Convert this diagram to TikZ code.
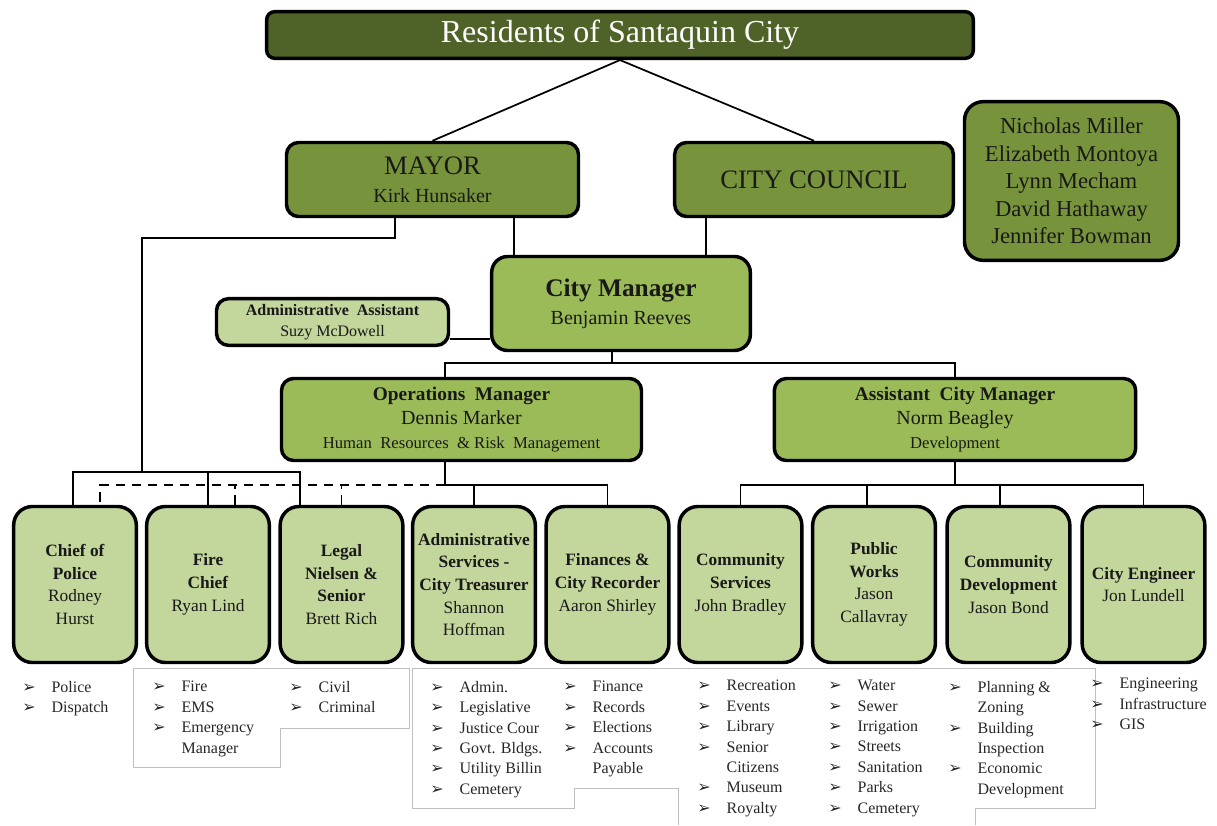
\documentclass[tikz,border=0pt]{standalone}
\usepackage{fontspec}
\setmainfont{Liberation Serif}
\newfontfamily\arrowfont{DejaVu Sans}
\usetikzlibrary{calc}

\definecolor{resgreen}{HTML}{4F6228}
\definecolor{olivegreen}{HTML}{77933C}
\definecolor{midgreen}{HTML}{9BBB59}
\definecolor{palegreen}{HTML}{C3D69B}
\definecolor{framegray}{HTML}{BFBFBF}

\newcommand{\larr}{\makebox[22pt][l]{\arrowfont\fontsize{12}{12}\selectfont ➢}}
\newcommand{\lind}{\hspace*{22pt}}

\begin{document}
\begin{tikzpicture}[x=0.75pt,y=0.75pt,yscale=-1,xscale=1,
  box/.style={draw=black,line width=2.6pt,rounded corners=9pt,align=center,text=black!90,inner sep=0pt},
  dept/.style={box,fill=palegreen,minimum width=92pt,minimum height=117pt,rounded corners=14pt,font=\fontsize{13}{17}\selectfont},
  conn/.style={line width=1.3pt},
  lst/.style={anchor=north west,align=left,inner sep=0pt,text=black!85,font=\fontsize{12}{15.3}\selectfont},
  frame/.style={draw=framegray,line width=0.7pt}]
\path[use as bounding box] (0,0) rectangle (1217,825);

%Top level
\node[box,fill=resgreen,minimum width=530pt,minimum height=35pt,rounded corners=6pt,text=white,font=\fontsize{24}{26}\selectfont] (res) at (620,35) {Residents of Santaquin City};
\node[box,fill=olivegreen,minimum width=219pt,minimum height=55.5pt,font=\fontsize{15}{21}\selectfont] (mayor) at (432.5,179.5) {{\fontsize{20}{21}\selectfont MAYOR}\\Kirk Hunsaker};
\node[box,fill=olivegreen,minimum width=209pt,minimum height=55.5pt,font=\fontsize{20}{24}\selectfont] (council) at (814,179.5) {CITY COUNCIL};
\node[box,fill=olivegreen,minimum width=160.5pt,minimum height=119pt,rounded corners=14pt,font=\fontsize{17}{20.6}\selectfont] (members) at (1071.5,181) {Nicholas Miller\\Elizabeth Montoya\\Lynn Mecham\\David Hathaway\\Jennifer Bowman};

%Managers
\node[box,fill=midgreen,minimum width=194pt,minimum height=70.5pt,rounded corners=12pt,font=\fontsize{15}{21}\selectfont] (cm) at (621,303.5) {{\bfseries\fontsize{19}{21}\selectfont City Manager}\\Benjamin Reeves};
\node[box,fill=palegreen,minimum width=174pt,minimum height=35pt,font=\fontsize{12}{16}\selectfont] (aa) at (332.5,322) {\textbf{Administrative\ \ Assistant}\\Suzy\ McDowell};
\node[box,fill=midgreen,minimum width=270pt,minimum height=61.5pt,font=\fontsize{15}{18}\selectfont] (ops) at (461.5,419.5) {{\bfseries\fontsize{14.5}{18}\selectfont Operations\ \ Manager}\\Dennis Marker\\{\fontsize{12.5}{18}\selectfont Human\ \ Resources\ \ \&\ Risk\ \ Management}};
\node[box,fill=midgreen,minimum width=271pt,minimum height=61.5pt,font=\fontsize{15}{18}\selectfont] (asst) at (955,419.5) {{\bfseries\fontsize{14.5}{18}\selectfont Assistant\ \ City Manager}\\Norm Beagley\\{\fontsize{12.5}{18}\selectfont Development}};

%Departments
\node[dept] (police) at (75,584.5) {\textbf{Chief of}\\\textbf{Police}\\Rodney\\Hurst};
\node[dept] (fire) at (208,584.5) {\textbf{Fire}\\\textbf{Chief}\\Ryan Lind};
\node[dept] (legal) at (341.5,584.5) {\textbf{Legal}\\\textbf{Nielsen \&}\\\textbf{Senior}\\Brett\ Rich};
\node[dept] (admsvc) at (474,584.5) {\textbf{Administrative}\\\textbf{Services -}\\\textbf{City Treasurer}\\Shannon\\Hoffman};
\node[dept] (fin) at (607.5,584.5) {\textbf{Finances \&}\\\textbf{City Recorder}\\Aaron Shirley};
\node[dept] (comsrv) at (740.5,584.5) {\textbf{Community}\\\textbf{Services}\\John Bradley};
\node[dept] (pubwk) at (874,584.5) {\textbf{Public}\\\textbf{Works}\\Jason\\Callavray};
\node[dept] (comdev) at (1008.5,584.5) {\textbf{Community}\\\textbf{Development}\\Jason Bond};
\node[dept] (eng) at (1143.5,584.5) {\textbf{City Engineer}\\Jon Lundell};

%Connectors
\draw[conn] (res.south) -- (mayor.north);
\draw[conn] (res.south) -- (council.north);
\coordinate (mcm) at ($(mayor.south)+(81.5,0)$);
\coordinate (ccm) at ($(council.south)+(-108,0)$);
\draw[conn] (mcm) -- (mcm |- cm.north);
\draw[conn] (ccm) -- (ccm |- cm.north);
\coordinate (aaj) at ($(aa.east)+(0,17)$);
\draw[conn] (aaj) -- (aaj -| cm.west);

\coordinate (mdn) at ($(mayor.south)+(-37.5,0)$);
\coordinate (pjoin) at ($(police.north)+(67,-33)$);
\draw[conn] (mdn) -- ++(0,20) -| (pjoin);
\draw[conn] ($(police.north)+(-2,0)$) -- ++(0,-33) -| ($(legal.north)+(-41.5,0)$);
\draw[conn] (fire.north) -- ++(0,-33);

\coordinate (cbus) at ($(cm.south)+(-9,11)$);
\draw[conn] ($(cm.south)+(-9,0)$) -- (cbus);
\draw[conn] ($(ops.north)+(-16.5,0)$) |- (cbus) -| (asst.north);

\coordinate (obus) at ($(ops.south)+(-16.5,23)$);
\draw[conn] ($(ops.south)+(-16.5,0)$) -- (obus) -| (fin.north);
\draw[conn] (admsvc.north) -- (admsvc.north |- obus);
\draw[conn,dash pattern=on 7pt off 5pt] (obus) -| ($(police.north)+(25,0)$);
\coordinate (fdash) at ($(fire.north)+(27,0)$);
\draw[conn,dash pattern=on 7pt off 5pt] (fdash) -- (fdash |- obus);
\draw[conn,dash pattern=on 7pt off 5pt] (legal.north) -- (legal.north |- obus);

\coordinate (abus) at ($(asst.south)+(0,23)$);
\draw[conn] (asst.south) -- (abus);
\draw[conn] (comsrv.north) |- (abus) -| (eng.north);
\coordinate (pwd) at ($(pubwk.north)+(-7,0)$);
\draw[conn] (pwd) -- (pwd |- abus);
\coordinate (cdd) at ($(comdev.north)+(-8.5,0)$);
\draw[conn] (cdd) -- (cdd |- abus);

%List frames
\draw[frame] (133,668) -- (409,668) -- (409,728) -- (280,728) -- (280,767) -- (133,767) -- cycle;
\draw[frame] (678,825) -- (678,788) -- (574,788) -- (574,808) -- (412,808) -- (412,668) -- (1095,668) -- (1095,808) -- (975,808) -- (975,825);

%Lists
\node[lst] (lpolice) at (22,681) {\larr Police\\\larr Dispatch};
\node[lst] (lfire) at (152,681) {\larr Fire\\\larr EMS\\\larr Emergency\\\lind Manager};
\node[lst] (llegal) at (289,681) {\larr Civil\\\larr Criminal};
\node[lst] (ladmsvc) at (430,681) {\larr Admin.\\\larr Legislative\\\larr Justice Cour\\\larr Govt. Bldgs.\\\larr Utility Billin\\\larr Cemetery};
\node[lst] (lfin) at (563,681) {\larr Finance\\\larr Records\\\larr Elections\\\larr Accounts\\\lind Payable};
\node[lst] (lcomsrv) at (697,680) {\larr Recreation\\\larr Events\\\larr Library\\\larr Senior\\\lind Citizens\\\larr Museum\\\larr Royalty};
\node[lst] (lpubwk) at (828,680) {\larr Water\\\larr Sewer\\\larr Irrigation\\\larr Streets\\\larr Sanitation\\\larr Parks\\\larr Cemetery};
\node[lst] (lcomdev) at (948,681) {\larr Planning \&\\\lind Zoning\\\larr Building\\\lind Inspection\\\larr Economic\\\lind Development};
\node[lst] (leng) at (1090,678) {\larr Engineering\\\larr Infrastructure\\\larr GIS};

\end{tikzpicture}
\end{document}
